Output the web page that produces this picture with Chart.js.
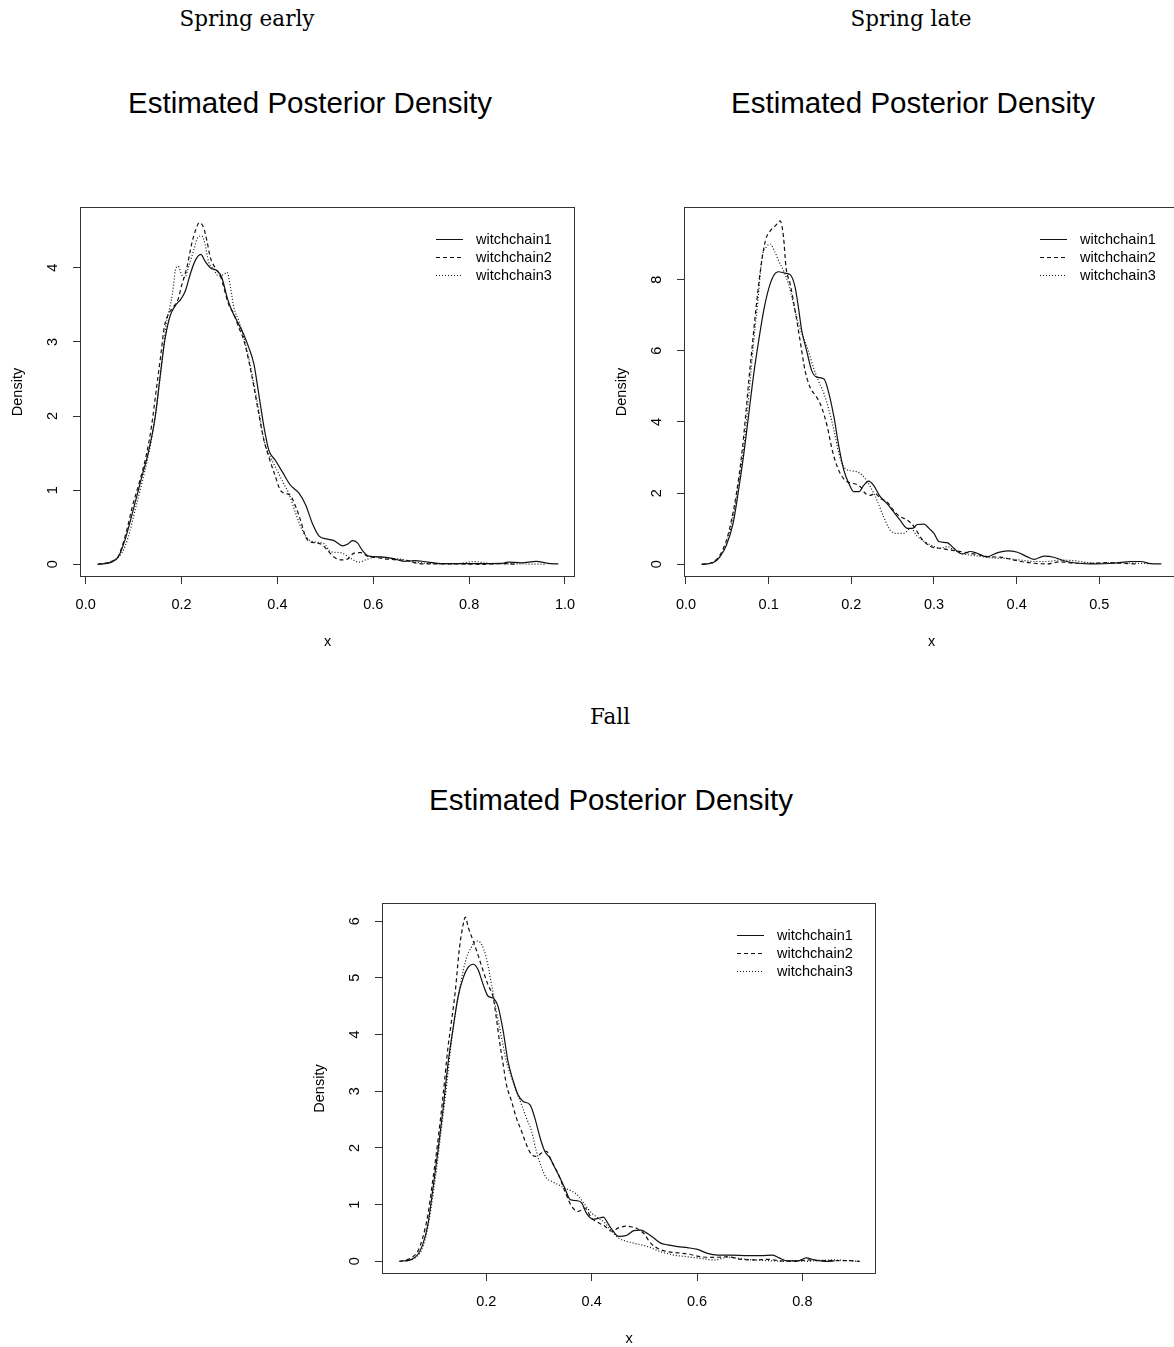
<!DOCTYPE html>
<html>
<head>
<meta charset="utf-8">
<script src="https://cdn.jsdelivr.net/npm/chart.js@4.4.0/dist/chart.umd.min.js"></script>
<style>
  html, body { margin: 0; padding: 0; width: 1174px; height: 1347px; overflow: hidden; background: #fff; }
  .hdr { position: absolute; font-family: 'DejaVu Serif', serif; font-size: 21.5px; color: #000; transform: translate(-50%, -50%); white-space: nowrap; }
  .ttl { position: absolute; font-family: 'Liberation Sans', Arial, sans-serif; font-size: 29.5px; color: #000; transform: translate(-50%, -50%); white-space: nowrap; }
  canvas { position: absolute; }
</style>
</head>
<body>
<div class="hdr" style="left:247px; top:18px">Spring early</div>
<div class="hdr" style="left:911px; top:18px">Spring late</div>
<div class="hdr" style="left:610px; top:716px">Fall</div>
<div class="ttl" style="left:310px; top:103px">Estimated Posterior Density</div>
<div class="ttl" style="left:913px; top:103px">Estimated Posterior Density</div>
<div class="ttl" style="left:611px; top:800px">Estimated Posterior Density</div>

<canvas id="springEarly" width="600" height="470" style="left:0px; top:190px"></canvas>
<canvas id="springLate" width="600" height="470" style="left:600px; top:190px"></canvas>
<canvas id="fall" width="600" height="470" style="left:300px; top:887px"></canvas>

<script>
// series labels
const chainNames = ['witchchain1', 'witchchain2', 'witchchain3'];

// Spring early
const springEarlyXTicks = [0, 0.2, 0.4, 0.6, 0.8, 1.0];
const springEarlyYTicks = [0, 1, 2, 3, 4];
const springEarlyChain1 = [[0.025,0],[0.054,0.03],[0.068,0.1],[0.082,0.33],[0.099,0.73],[0.117,1.18],[0.130,1.49],[0.145,1.99],[0.155,2.52],[0.165,3.02],[0.176,3.35],[0.187,3.49],[0.199,3.58],[0.208,3.69],[0.218,3.91],[0.228,4.09],[0.240,4.18],[0.249,4.09],[0.260,4.0],[0.274,3.96],[0.284,3.87],[0.295,3.6],[0.305,3.42],[0.319,3.24],[0.329,3.11],[0.340,2.93],[0.351,2.70],[0.361,2.30],[0.372,1.85],[0.382,1.54],[0.396,1.40],[0.410,1.25],[0.427,1.07],[0.445,0.96],[0.459,0.80],[0.473,0.55],[0.487,0.38],[0.504,0.34],[0.518,0.32],[0.536,0.25],[0.546,0.27],[0.557,0.32],[0.567,0.29],[0.577,0.19],[0.591,0.11],[0.616,0.10],[0.640,0.08],[0.665,0.04],[0.686,0.05],[0.714,0.03],[0.741,0.01],[0.804,0.01],[0.867,0.013],[0.881,0.03],[0.909,0.02],[0.940,0.04],[0.964,0.013],[0.986,0.005]];
const springEarlyChain2 = [[0.025,0],[0.054,0.04],[0.068,0.11],[0.082,0.37],[0.099,0.82],[0.113,1.13],[0.127,1.49],[0.137,1.85],[0.148,2.39],[0.157,2.84],[0.164,3.2],[0.173,3.38],[0.183,3.47],[0.193,3.58],[0.200,3.76],[0.211,4.0],[0.221,4.32],[0.230,4.52],[0.237,4.61],[0.246,4.54],[0.253,4.36],[0.260,4.14],[0.270,4.0],[0.281,3.89],[0.288,3.74],[0.298,3.51],[0.309,3.38],[0.319,3.2],[0.330,3.02],[0.340,2.75],[0.351,2.39],[0.361,2.03],[0.372,1.67],[0.382,1.45],[0.396,1.18],[0.406,1.0],[0.417,0.955],[0.427,0.93],[0.438,0.78],[0.448,0.6],[0.459,0.37],[0.469,0.3],[0.480,0.29],[0.494,0.26],[0.504,0.19],[0.518,0.10],[0.532,0.06],[0.546,0.07],[0.560,0.15],[0.574,0.157],[0.588,0.11],[0.609,0.09],[0.630,0.07],[0.650,0.06],[0.672,0.05],[0.692,0.013],[0.720,0.005],[0.769,0.005],[0.830,0.0],[0.870,0.01],[0.900,0.0]];
const springEarlyChain3 = [[0.033,0],[0.060,0.06],[0.075,0.15],[0.089,0.37],[0.103,0.73],[0.117,1.09],[0.130,1.45],[0.143,1.9],[0.153,2.39],[0.161,2.84],[0.168,3.25],[0.175,3.45],[0.181,3.65],[0.187,3.96],[0.193,4.02],[0.200,3.91],[0.207,3.87],[0.214,4.0],[0.225,4.23],[0.234,4.41],[0.242,4.43],[0.249,4.32],[0.256,4.09],[0.267,3.98],[0.277,3.89],[0.288,3.91],[0.295,3.94],[0.302,3.74],[0.309,3.47],[0.319,3.29],[0.330,3.06],[0.340,2.79],[0.351,2.43],[0.361,2.08],[0.372,1.67],[0.382,1.49],[0.392,1.36],[0.403,1.22],[0.413,1.09],[0.424,0.955],[0.438,0.69],[0.452,0.46],[0.466,0.33],[0.480,0.30],[0.497,0.28],[0.511,0.17],[0.532,0.157],[0.553,0.08],[0.570,0.03],[0.588,0.07],[0.609,0.10],[0.630,0.08],[0.657,0.07],[0.686,0.03],[0.714,0.013],[0.769,0.005],[0.811,0.036],[0.832,0.02],[0.853,0.005],[0.900,0.005],[0.960,0.0]];

// Spring late
const springLateXTicks = [0, 0.1, 0.2, 0.3, 0.4, 0.5];
const springLateYTicks = [0, 2, 4, 6, 8];
const springLateChain1 = [[0.019,0],[0.033,0.05],[0.041,0.21],[0.049,0.54],[0.057,1.15],[0.063,1.99],[0.070,3.11],[0.076,4.23],[0.082,5.36],[0.088,6.29],[0.094,7.13],[0.100,7.74],[0.106,8.11],[0.112,8.22],[0.120,8.18],[0.126,8.14],[0.132,7.79],[0.136,7.22],[0.140,6.57],[0.146,6.0],[0.152,5.45],[0.158,5.26],[0.167,5.21],[0.173,4.79],[0.179,4.14],[0.185,3.3],[0.191,2.64],[0.197,2.27],[0.203,2.04],[0.209,2.04],[0.215,2.22],[0.221,2.34],[0.227,2.22],[0.235,1.9],[0.243,1.71],[0.251,1.48],[0.259,1.24],[0.268,1.01],[0.274,1.01],[0.280,1.12],[0.288,1.13],[0.294,1.01],[0.300,0.87],[0.306,0.64],[0.316,0.61],[0.324,0.45],[0.334,0.29],[0.344,0.36],[0.352,0.31],[0.364,0.21],[0.377,0.33],[0.389,0.38],[0.401,0.34],[0.413,0.21],[0.421,0.14],[0.433,0.23],[0.445,0.2],[0.457,0.1],[0.474,0.03],[0.494,0.01],[0.518,0.03],[0.538,0.08],[0.550,0.08],[0.562,0.02],[0.575,0.01]];
const springLateChain2 = [[0.019,0],[0.033,0.07],[0.041,0.26],[0.049,0.68],[0.055,1.24],[0.061,1.99],[0.068,3.2],[0.072,4.14],[0.076,5.17],[0.080,6.1],[0.084,7.04],[0.090,8.25],[0.096,9.09],[0.102,9.37],[0.108,9.51],[0.114,9.65],[0.118,9.19],[0.121,8.35],[0.126,7.88],[0.132,7.13],[0.138,6.29],[0.144,5.45],[0.150,4.98],[0.158,4.7],[0.164,4.42],[0.171,3.86],[0.177,3.2],[0.183,2.74],[0.189,2.46],[0.195,2.32],[0.203,2.27],[0.211,2.18],[0.217,1.99],[0.223,1.94],[0.229,1.99],[0.235,1.85],[0.243,1.76],[0.251,1.52],[0.259,1.34],[0.268,1.24],[0.276,1.06],[0.284,0.75],[0.296,0.5],[0.308,0.45],[0.320,0.4],[0.332,0.36],[0.344,0.31],[0.356,0.26],[0.369,0.21],[0.381,0.2],[0.393,0.14],[0.405,0.08],[0.421,0.03],[0.437,0.01],[0.453,0.07],[0.470,0.03],[0.494,0.03],[0.510,0.05],[0.526,0.03],[0.545,0.01]];
const springLateChain3 = [[0.021,0],[0.035,0.07],[0.043,0.29],[0.051,0.73],[0.057,1.34],[0.063,2.18],[0.070,3.3],[0.074,4.23],[0.078,5.26],[0.082,6.29],[0.087,7.41],[0.092,8.63],[0.097,8.91],[0.102,9.0],[0.107,8.81],[0.112,8.53],[0.118,8.25],[0.124,7.88],[0.130,7.32],[0.136,6.76],[0.142,6.38],[0.148,6.0],[0.154,5.54],[0.160,5.17],[0.167,4.79],[0.173,4.33],[0.179,3.77],[0.185,3.11],[0.191,2.74],[0.199,2.63],[0.207,2.6],[0.215,2.46],[0.223,2.18],[0.231,1.8],[0.239,1.34],[0.247,0.96],[0.255,0.87],[0.263,0.87],[0.272,1.01],[0.280,0.78],[0.292,0.59],[0.300,0.5],[0.308,0.45],[0.316,0.5],[0.324,0.4],[0.336,0.29],[0.348,0.25],[0.360,0.21],[0.372,0.18],[0.389,0.16],[0.405,0.12],[0.421,0.08],[0.437,0.08],[0.453,0.12],[0.470,0.1],[0.486,0.05],[0.502,0.03],[0.518,0.05],[0.534,0.04],[0.560,0.02]];

// Fall
const fallXTicks = [0.2, 0.4, 0.6, 0.8];
const fallYTicks = [0, 1, 2, 3, 4, 5, 6];
const fallChain1 = [[0.035,0],[0.057,0.03],[0.070,0.12],[0.079,0.29],[0.089,0.65],[0.098,1.24],[0.108,1.94],[0.118,2.7],[0.127,3.47],[0.137,4.12],[0.146,4.65],[0.156,5.0],[0.165,5.18],[0.175,5.24],[0.184,5.15],[0.194,4.88],[0.203,4.68],[0.213,4.64],[0.222,4.5],[0.232,4.06],[0.241,3.53],[0.251,3.18],[0.260,2.94],[0.270,2.82],[0.283,2.76],[0.292,2.53],[0.302,2.18],[0.311,1.94],[0.321,1.82],[0.330,1.65],[0.340,1.47],[0.349,1.29],[0.359,1.09],[0.371,1.07],[0.381,1.03],[0.390,0.85],[0.403,0.74],[0.413,0.76],[0.422,0.78],[0.432,0.65],[0.441,0.53],[0.451,0.44],[0.467,0.46],[0.480,0.54],[0.493,0.55],[0.506,0.49],[0.518,0.41],[0.531,0.32],[0.544,0.29],[0.563,0.26],[0.582,0.24],[0.601,0.21],[0.620,0.14],[0.639,0.11],[0.664,0.11],[0.696,0.1],[0.721,0.1],[0.744,0.11],[0.756,0.06],[0.772,0.006],[0.791,0.006],[0.807,0.06],[0.823,0.024],[0.842,0.0],[0.861,0.006]];
const fallChain2 = [[0.035,0],[0.057,0.06],[0.070,0.18],[0.079,0.41],[0.089,0.82],[0.098,1.41],[0.108,2.12],[0.118,2.94],[0.127,3.76],[0.133,4.18],[0.141,4.76],[0.149,5.53],[0.156,5.94],[0.160,6.07],[0.166,5.88],[0.175,5.65],[0.184,5.41],[0.194,5.12],[0.203,4.88],[0.213,4.65],[0.219,4.29],[0.225,3.88],[0.232,3.47],[0.238,3.12],[0.248,2.82],[0.257,2.53],[0.267,2.29],[0.276,2.06],[0.286,1.88],[0.295,1.85],[0.305,1.91],[0.314,1.94],[0.324,1.76],[0.337,1.53],[0.349,1.24],[0.362,0.97],[0.375,0.88],[0.387,0.94],[0.400,0.76],[0.413,0.68],[0.425,0.62],[0.438,0.53],[0.451,0.59],[0.467,0.62],[0.474,0.61],[0.486,0.58],[0.499,0.49],[0.512,0.32],[0.525,0.23],[0.544,0.17],[0.563,0.15],[0.582,0.13],[0.607,0.08],[0.633,0.07],[0.658,0.08],[0.683,0.035],[0.709,0.024],[0.734,0.035],[0.760,0.006],[0.785,0],[0.810,0.024],[0.836,0.012],[0.861,0.012],[0.887,0.012],[0.909,0]];
const fallChain3 = [[0.048,0],[0.064,0.06],[0.076,0.18],[0.086,0.47],[0.095,0.94],[0.105,1.59],[0.114,2.29],[0.124,3.06],[0.133,3.82],[0.143,4.47],[0.152,4.94],[0.162,5.35],[0.171,5.53],[0.181,5.65],[0.191,5.59],[0.200,5.35],[0.210,4.88],[0.219,4.41],[0.229,3.94],[0.238,3.53],[0.248,3.24],[0.257,3.0],[0.267,2.76],[0.276,2.53],[0.286,2.29],[0.295,1.94],[0.305,1.65],[0.314,1.47],[0.324,1.41],[0.337,1.35],[0.349,1.29],[0.362,1.24],[0.375,1.15],[0.387,1.0],[0.400,0.85],[0.413,0.76],[0.425,0.68],[0.438,0.53],[0.451,0.41],[0.467,0.35],[0.480,0.32],[0.506,0.26],[0.531,0.17],[0.556,0.11],[0.582,0.08],[0.607,0.05],[0.633,0.024],[0.658,0.07],[0.683,0.047],[0.709,0.024],[0.734,0.012],[0.760,0],[0.785,0.012],[0.810,0],[0.836,0.018],[0.861,0.024],[0.887,0.012],[0.909,0]];

const FONT = "'Liberation Sans', Arial, sans-serif";
const lineDash = [[], [4, 3], [1, 2]];

// R style frame around the plot region + legend in the top right corner
const rFrame = {
    id: 'rFrame',
    afterDatasetsDraw(chart) {
        const {ctx, chartArea: a} = chart;
        ctx.save();
        ctx.strokeStyle = '#333';
        ctx.lineWidth = 1;
        const l = Math.round(a.left), t = Math.round(a.top), r = Math.round(a.right), b = Math.round(a.bottom);
        ctx.strokeRect(l + 0.5, t + 0.5, r - l - 1, b - t - 1);

        ctx.font = '14.5px ' + FONT;
        ctx.textBaseline = 'middle';
        ctx.textAlign = 'left';
        chart.data.datasets.forEach((ds, i) => {
            const y = Math.round(a.top + 32 + i * 18) + 0.5;
            ctx.strokeStyle = ds.borderColor;
            ctx.setLineDash(ds.borderDash);
            ctx.beginPath();
            ctx.moveTo(r - 139, y);
            ctx.lineTo(r - 112, y);
            ctx.stroke();
            ctx.setLineDash([]);
            ctx.fillStyle = '#000';
            ctx.fillText(ds.label, r - 99, y);
        });
        ctx.restore();
    }
};

// no extra room for overhanging tick labels, the layout padding does it
function noOverhang(s) {
    s.paddingTop = 0;
    s.paddingBottom = 0;
    s.paddingLeft = 0;
    s.paddingRight = 0;
}

function makeChart(id, chains, xRange, yRange, xTicks, yTicks, pad) {
    const axisFont = {family: FONT, size: 14.5};
    new Chart(document.getElementById(id), {
        type: 'line',
        data: {
            datasets: chains.map((c, i) => ({
                label: chainNames[i],
                data: c.map(p => ({x: p[0], y: p[1]})),
                borderColor: '#111',
                borderWidth: 1.2,
                borderDash: lineDash[i],
                pointRadius: 0,
                fill: false,
                cubicInterpolationMode: 'monotone'
            }))
        },
        options: {
            responsive: false,
            animation: false,
            events: [],
            layout: {padding: pad},
            plugins: {legend: {display: false}, tooltip: {enabled: false}},
            scales: {
                x: {
                    type: 'linear',
                    min: xRange[0], max: xRange[1],
                    afterBuildTicks: s => { s.ticks = xTicks.map(v => ({value: v})); },
                    afterFit: s => { s.height = 80; noOverhang(s); },
                    ticks: {autoSkip: false, maxRotation: 0, padding: 12, color: '#000', font: axisFont,
                        callback: v => v.toFixed(1)},
                    grid: {drawOnChartArea: false, drawTicks: true, tickLength: 7, color: '#333'},
                    border: {display: false},
                    title: {display: true, text: 'x', color: '#000', font: axisFont, padding: {top: 0, bottom: 6}}
                },
                y: {
                    type: 'linear',
                    min: yRange[0], max: yRange[1],
                    afterBuildTicks: s => { s.ticks = yTicks.map(v => ({value: v})); },
                    afterFit: s => { s.width = 80; noOverhang(s); },
                    ticks: {minRotation: 90, maxRotation: 90, crossAlign: 'center', padding: 16, color: '#000', font: axisFont},
                    grid: {drawOnChartArea: false, drawTicks: true, tickLength: 7, color: '#333'},
                    border: {display: false},
                    title: {display: true, text: 'Density', color: '#000', font: axisFont, padding: {top: 9, bottom: 0}}
                }
            }
        },
        plugins: [rFrame]
    });
}

makeChart('springEarly', [springEarlyChain1, springEarlyChain2, springEarlyChain3],
    [-0.0119, 1.0209], [-0.171, 4.82], springEarlyXTicks, springEarlyYTicks,
    {left: 0, right: 25, top: 17, bottom: 3});
makeChart('springLate', [springLateChain1, springLateChain2, springLateChain3],
    [-0.0024, 0.5964], [-0.356, 10.04], springLateXTicks, springLateYTicks,
    {left: 4, right: 21, top: 17, bottom: 3});
makeChart('fall', [fallChain1, fallChain2, fallChain3],
    [0.0019, 0.9398], [-0.224, 6.32], fallXTicks, fallYTicks,
    {left: 2, right: 24, top: 16, bottom: 3});
</script>
</body>
</html>
